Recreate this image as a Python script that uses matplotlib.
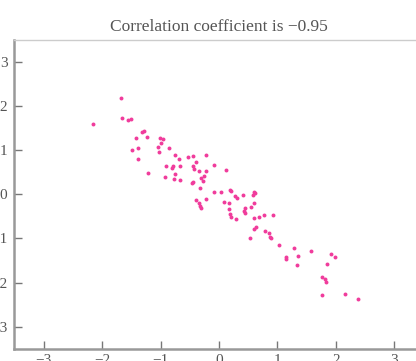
import matplotlib
matplotlib.use('Agg')
import matplotlib.pyplot as plt
import numpy as np

# values
x_vals = [-1.67, -2.15, -1.66, -1.55, -1.51, -1.31, -1.28, -1.42, -1.24, -1.01,
          -0.96, -0.99, -1.48, -1.38, -1.39, -1.04, -1.02, -0.86, -1.22, -0.76,
          -0.68, -0.53, -0.45, -0.23, -0.39, -0.91, -0.81, -0.78, -0.67, -0.45,
          -0.43, -0.35, -0.23, -0.25, -0.08, 0.12, -0.93, -0.75, -0.77, -0.67,
          -0.31, -0.28, -0.44, -0.46, -0.33, -0.08, 0.04, 0.18, 0.20, 0.28,
          0.31, -0.23, -0.39, -0.35, -0.33, -0.30, 0.09, 0.17, 0.17, 0.19,
          0.21, 0.29, 0.41, 0.60, 0.62, 0.59, 0.60, 0.55, 0.45, 0.43,
          0.45, 0.60, 0.69, 0.77, 0.92, 0.63, 0.60, 0.53, 0.78, 0.86,
          0.88, 0.89, 1.03, 1.28, 1.57, 1.14, 1.14, 1.35, 1.34, 1.91,
          1.98, 1.85, 1.77, 1.81, 1.83, 1.76, 2.16, 2.37]
y_vals = [2.18, 1.58, 1.72, 1.68, 1.70, 1.40, 1.43, 1.28, 1.29, 1.28,
          1.25, 1.17, 0.99, 1.05, 0.80, 1.07, 0.96, 1.05, 0.47, 0.89,
          0.79, 0.84, 0.86, 0.88, 0.72, 0.64, 0.60, 0.64, 0.64, 0.63,
          0.57, 0.53, 0.53, 0.42, 0.65, 0.54, 0.40, 0.46, 0.34, 0.32,
          0.36, 0.31, 0.28, 0.25, 0.13, 0.05, 0.06, 0.10, 0.08, -0.03,
          -0.08, -0.10, -0.13, -0.20, -0.26, -0.32, -0.17, -0.20, -0.34, -0.44,
          -0.51, -0.56, -0.01, 0.05, 0.02, -0.02, -0.21, -0.28, -0.31, -0.37,
          -0.42, -0.53, -0.52, -0.48, -0.46, -0.74, -0.78, -0.98, -0.84, -0.87,
          -0.96, -1.00, -1.15, -1.22, -1.29, -1.43, -1.47, -1.40, -1.61, -1.36,
          -1.41, -1.58, -1.87, -1.92, -1.98, -2.28, -2.25, -2.36]
ticks = [-3, -2, -1, 0, 1, 2, 3]
title = "Correlation coefficient is \u22120.95"

plt.rcParams['font.family'] = ['Liberation Serif', 'DejaVu Serif']
grey = '#555555'

fig = plt.figure(figsize=(4.16, 3.61), dpi=100)
# the reference is a crop: the right spine and the label minus signs fall outside
ax = fig.add_axes([0.0346, 0.0335, 0.9837, 0.857])

ax.scatter(x_vals, y_vals, s=8, color='#f03c9c', marker='o', linewidths=0)

ax.set_xlim(-3.5, 3.5)
ax.set_ylim(-3.5, 3.5)
ax.set_xticks(ticks)
ax.set_yticks(ticks)
ax.tick_params(direction='in', length=6, width=1, color='#777777',
               labelcolor=grey, labelsize=11)
ax.tick_params(axis='y', pad=5)
ax.tick_params(axis='x', pad=4)

for side in ['left', 'bottom']:
    ax.spines[side].set_color('#999999')
    ax.spines[side].set_linewidth(1.8)
ax.spines['top'].set_color('#cccccc')
ax.spines['top'].set_linewidth(1.0)
ax.spines['right'].set_visible(False)

ax.set_title(title, fontsize=12.5, color=grey, pad=6)

fig.savefig('out.png', dpi=100)
